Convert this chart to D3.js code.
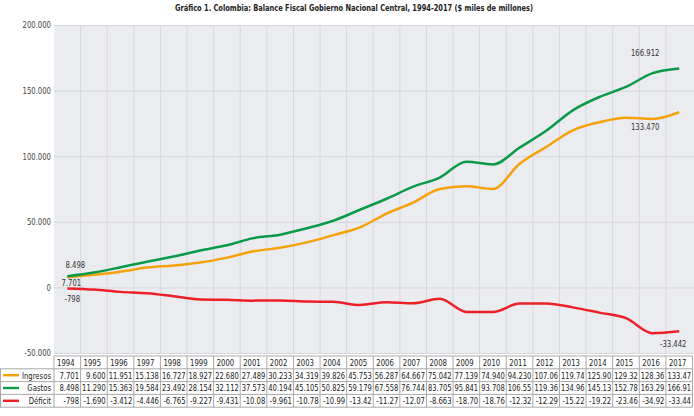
<!DOCTYPE html>
<html>
<head>
<meta charset="utf-8">
<script src="https://cdn.jsdelivr.net/npm/d3@7"></script>
<style>
  body { margin: 0; background: #fff; }
  text { font-family: "DejaVu Sans Condensed", "Liberation Sans", sans-serif; }
</style>
</head>
<body>
<div id="chart"></div>
<script>
var w = 694;
var h = 416;

// data, $ miles de millones
var years = ['1994', '1995', '1996', '1997', '1998', '1999', '2000', '2001', '2002', '2003', '2004', '2005',
             '2006', '2007', '2008', '2009', '2010', '2011', '2012', '2013', '2014', '2015', '2016', '2017'];
var ingresos = [7701, 9600, 11951, 15138, 16727, 18927, 22680, 27489, 30233, 34319, 39826, 45753,
                56287, 64667, 75042, 77139, 74940, 94230, 107060, 119740, 125900, 129320, 128360, 133470];
var gastos = [8498, 11290, 15363, 19584, 23492, 28154, 32112, 37573, 40194, 45105, 50825, 59179,
              67558, 76744, 83705, 95841, 93708, 106550, 119360, 134960, 145130, 152780, 163290, 166912];
var deficit = [-798, -1690, -3412, -4446, -6765, -9227, -9431, -10080, -9961, -10780, -10990, -13420,
               -11270, -12070, -8663, -18700, -18760, -12320, -12290, -15220, -19220, -23460, -34920, -33442];
var yTicks = [-50000, 0, 50000, 100000, 150000, 200000];

var series = [
  { name: 'Ingresos', values: ingresos, color: '#f5a10a' },
  { name: 'Gastos', values: gastos, color: '#0a9a48' },
  { name: 'Déficit', values: deficit, color: '#ec2027' }
];

var margin = { top: 25, left: 54, right: 1.5 };
var plotBottom = 353;

var svg = d3.select('#chart').append('svg')
  .attr('width', w)
  .attr('height', h);

// thousands with '.' and a plain hyphen, like the original
var fmt = function(v) {
  return d3.format(',')(v).replace(/,/g, '.').replace('\u2212', '-');
};

var x = d3.scaleBand()
  .domain(years)
  .range([margin.left, w - margin.right]);

var y = d3.scaleLinear()
  .domain([-50000, 200000])
  .range([plotBottom, margin.top]);

// squeeze text horizontally (original uses a condensed face)
function condense(sel, k) {
  sel.each(function() {
    var len = this.getComputedTextLength();
    d3.select(this)
      .attr('textLength', len * k)
      .attr('lengthAdjust', 'spacingAndGlyphs');
  });
}

// title
svg.append('text')
  .attr('x', 354)
  .attr('y', 11)
  .attr('text-anchor', 'middle')
  .attr('font-size', 9)
  .attr('font-weight', 'bold')
  .attr('fill', '#222')
  .attr('textLength', 358)
  .attr('lengthAdjust', 'spacingAndGlyphs')
  .text('Gráfico 1. Colombia: Balance Fiscal Gobierno Nacional Central, 1994-2017 ($ miles de millones)');

// plot background
svg.append('rect')
  .attr('x', margin.left)
  .attr('y', margin.top)
  .attr('width', w - margin.left)
  .attr('height', plotBottom - margin.top)
  .attr('fill', '#ebecf0');

// vertical grid at column edges
svg.append('g').selectAll('line')
  .data(years.slice(1))
  .enter()
  .append('line')
  .attr('x1', function(d) { return x(d); })
  .attr('x2', function(d) { return x(d); })
  .attr('y1', margin.top)
  .attr('y2', plotBottom)
  .attr('stroke', '#d6d7dd')
  .attr('stroke-width', 1);

// horizontal grid + y labels
var yAxis = d3.axisLeft(y)
  .tickValues(yTicks)
  .tickSize(-(w - margin.left))
  .tickPadding(3)
  .tickFormat(fmt);

var gy = svg.append('g')
  .attr('transform', 'translate(' + margin.left + ',0)')
  .call(yAxis);
gy.select('.domain').remove();
gy.selectAll('.tick line').attr('stroke', '#d6d7dd');
gy.selectAll('.tick text')
  .attr('font-size', 9)
  .attr('fill', '#444')
  .style('font-family', '"DejaVu Sans Condensed", "Liberation Sans", sans-serif')
  .call(condense, 0.85);

// lines
var line = d3.line()
  .x(function(d, i) { return x(years[i]) + x.bandwidth() / 2; })
  .y(function(d) { return y(d); })
  .curve(d3.curveMonotoneX);

svg.append('g').selectAll('path')
  .data(series)
  .enter()
  .append('path')
  .attr('d', function(d) { return line(d.values); })
  .attr('fill', 'none')
  .attr('stroke', function(d) { return d.color; })
  .attr('stroke-width', 2.5)
  .attr('stroke-linejoin', 'round');

// end point labels
var cx = function(i) { return x(years[i]) + x.bandwidth() / 2; };
var last = years.length - 1;
var pointLabels = [
  { t: fmt(gastos[0]), x: cx(0) + 8, y: y(gastos[0]) - 8 },
  { t: fmt(ingresos[0]), x: cx(0) + 4, y: y(ingresos[0]) + 9 },
  { t: fmt(deficit[0]), x: cx(0) + 5, y: y(deficit[0]) + 14 },
  { t: fmt(gastos[last]), x: cx(last) - 34, y: y(gastos[last]) - 12 },
  { t: fmt(ingresos[last]), x: cx(last) - 34, y: y(ingresos[last]) + 18 },
  { t: fmt(deficit[last]), x: cx(last) - 6, y: y(deficit[last]) + 16 }
];
svg.append('g').selectAll('text')
  .data(pointLabels)
  .enter()
  .append('text')
  .attr('x', function(d) { return d.x; })
  .attr('y', function(d) { return d.y; })
  .attr('text-anchor', 'middle')
  .attr('font-size', 9)
  .attr('fill', '#333')
  .text(function(d) { return d.t; })
  .call(condense, 0.85);

// data table
var rowTop = 356;
var rowH = 12.8;
var tbl = svg.append('g');
var border = '#a9a9a9';

// header row (years)
tbl.selectAll('.yr')
  .data(years)
  .enter()
  .append('text')
  .attr('class', 'yr')
  .attr('x', function(d) { return x(d) + 3; })
  .attr('y', rowTop + rowH - 3)
  .attr('font-size', 9)
  .attr('fill', '#222')
  .text(function(d) { return d; })
  .call(condense, 0.85);

series.forEach(function(s, r) {
  var ty = rowTop + rowH * (r + 1);
  // legend swatch
  tbl.append('line')
    .attr('x1', 3).attr('x2', 19)
    .attr('y1', ty + rowH / 2).attr('y2', ty + rowH / 2)
    .attr('stroke', s.color)
    .attr('stroke-width', 2.4);
  tbl.append('text')
    .attr('x', 51)
    .attr('y', ty + rowH - 3)
    .attr('text-anchor', 'end')
    .attr('font-size', 9)
    .attr('fill', '#222')
    .text(s.name)
    .call(condense, 0.85);
  tbl.selectAll('.v' + r)
    .data(s.values)
    .enter()
    .append('text')
    .attr('class', 'v' + r)
    .attr('x', function(d, i) { return x(years[i]) + x.bandwidth() - 1.5; })
    .attr('y', ty + rowH - 3)
    .attr('text-anchor', 'end')
    .attr('font-size', 8.3)
    .attr('fill', '#222')
    .text(function(d) { return fmt(d).slice(0, 6); })
    .each(function() {
      // fit each value in its cell
      var len = this.getComputedTextLength();
      var fit = Math.min(len * 0.92, x.bandwidth() - 3);
      d3.select(this).attr('textLength', fit).attr('lengthAdjust', 'spacingAndGlyphs');
    });
});

// table borders
var tableBottom = rowTop + rowH * 4;
var xEnd = w - margin.right;
tbl.append('line')
  .attr('x1', margin.left).attr('x2', xEnd)
  .attr('y1', rowTop).attr('y2', rowTop)
  .attr('stroke', border);
[1, 2, 3, 4].forEach(function(k) {
  tbl.append('line')
    .attr('x1', 0).attr('x2', xEnd)
    .attr('y1', rowTop + rowH * k).attr('y2', rowTop + rowH * k)
    .attr('stroke', border);
});
tbl.append('line')
  .attr('x1', 0.5).attr('x2', 0.5)
  .attr('y1', rowTop + rowH).attr('y2', tableBottom)
  .attr('stroke', border);
tbl.selectAll('.col')
  .data(years.concat(['end']))
  .enter()
  .append('line')
  .attr('x1', function(d) { return d === 'end' ? xEnd : x(d); })
  .attr('x2', function(d) { return d === 'end' ? xEnd : x(d); })
  .attr('y1', rowTop)
  .attr('y2', tableBottom)
  .attr('stroke', border);
</script>
</body>
</html>
